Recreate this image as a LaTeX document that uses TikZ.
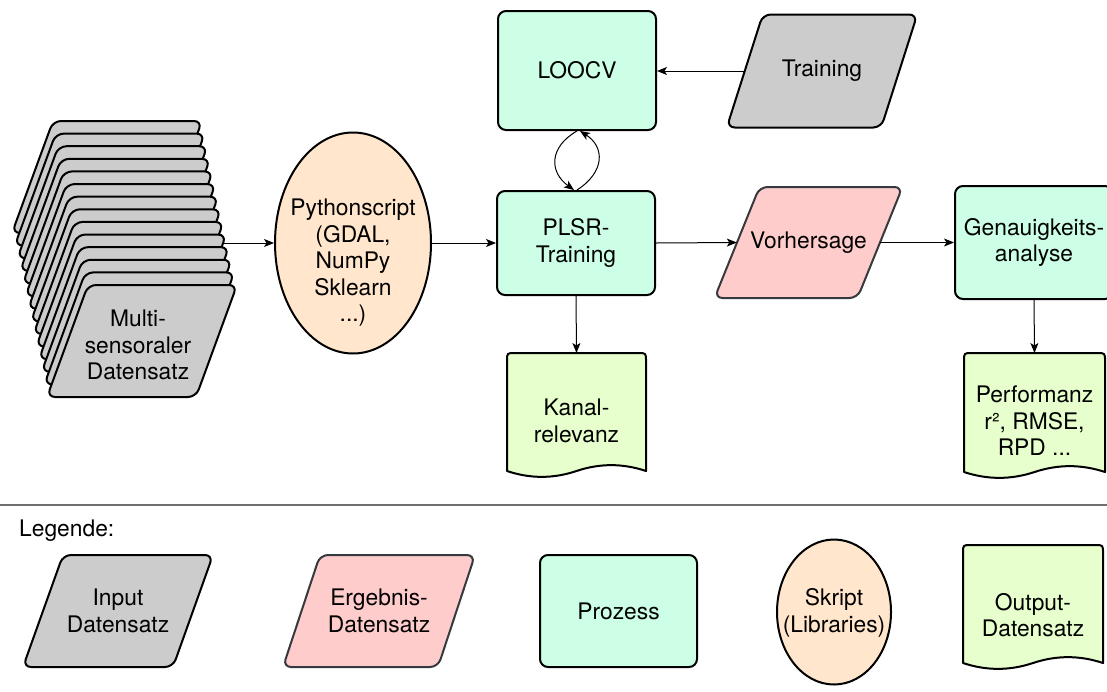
\documentclass[tikz,border=0pt]{standalone}
\usepackage{fontspec}
\setmainfont{TeX Gyre Heros}
\usetikzlibrary{arrows.meta,shapes.geometric}

\definecolor{inputgray}{HTML}{CCCCCC}
\definecolor{resultpink}{HTML}{FFCCCC}
\definecolor{pinkline}{HTML}{36393D}
\definecolor{procmint}{HTML}{CCFFE6}
\definecolor{scriptpeach}{HTML}{FFE6CC}
\definecolor{outgreen}{HTML}{E6FFCC}
\definecolor{rulegray}{HTML}{6E6E6E}

\tikzset{
  shapeline/.style={line width=2pt, draw=black, line join=round},
  proc/.style={shapeline, fill=procmint, rounded corners=8pt, align=center, inner sep=0pt},
  scriptshape/.style={shapeline, fill=scriptpeach, ellipse, inner sep=0pt},
  lbl/.style={align=center, inner sep=0pt},
  helper/.style={inner sep=0pt, outer sep=0pt},
  conn/.style={line width=1pt, -{Stealth[length=10pt,width=8pt,inset=2.5pt]}},
}

% parallelogram data shape: name, cx, cy, edge width, height, skew, style, text
\newcommand\parashape[8]{%
  \filldraw[shapeline,#7,rounded corners=8pt]
    ({#2-#4/2+#6/2},{#3-#5/2}) -- ({#2+#4/2+#6/2},{#3-#5/2}) --
    ({#2+#4/2-#6/2},{#3+#5/2}) -- ({#2-#4/2-#6/2},{#3+#5/2}) -- cycle;
  \node[lbl, minimum width={#4*1pt}, minimum height={#5*1pt}] (#1) at (#2,#3) {#8};
}

% document shape with wavy lower edge: name, left x, top y, width, wave end y, text, text centre y
\newcommand\docshape[7]{%
  \filldraw[shapeline, fill=outgreen]
    ({#2},{#5}) -- ({#2},{#3+8}) .. controls ({#2},{#3}) and ({#2},{#3}) .. ({#2+8},{#3})
    -- ({#2+#4-8},{#3}) .. controls ({#2+#4},{#3}) and ({#2+#4},{#3}) .. ({#2+#4},{#3+8})
    -- ({#2+#4},{#5})
    .. controls ({#2+5*#4/6},{#5-7.8}) and ({#2+2*#4/3},{#5-7.8}) .. ({#2+#4/2},{#5})
    .. controls ({#2+#4/3},{#5+7.8}) and ({#2+#4/6},{#5+7.8}) .. cycle;
  \node[helper, minimum width={#4*1pt}, minimum height={(#5-#3)*1pt}] (#1) at ({#2+#4/2},{(#3+#5)/2}) {};
  \node[lbl] (#1-text) at ({#2+#4/2},{#7}) {#6};
}

\begin{document}
\begin{tikzpicture}[x=1pt, y=-1pt,
  every node/.append style={font=\fontsize{22.8}{26.5}\selectfont}]
\useasboundingbox (0,0) rectangle (1107,691);
\clip (0,0) rectangle (1107,691);

% stacked multi-sensor input layers
\foreach \i in {0,...,13} {
  \pgfmathsetmacro\tx{53+\i*35/13}
  \pgfmathsetmacro\ty{121+\i*164/13}
  \filldraw[shapeline, fill=inputgray, rounded corners=8pt]
    (\tx,\ty) -- ({\tx+149},\ty) -- ({\tx+108},{\ty+112}) -- ({\tx-41},{\ty+112}) -- cycle;
}
\node[lbl] (stack) at (138,345) {Multi-\\sensoraler\\Datensatz};
\coordinate (stackout) at (223,243);

% script
\node[scriptshape, minimum width=156pt, minimum height=221pt] (py) at (353,243) {};
\node[lbl] (pytext) at (353,263) {Pythonscript\\(GDAL,\\NumPy\\Sklearn\\...)};

% processes
\node[proc, minimum width=158pt, minimum height=119pt] (loocv) at (577,70.5) {LOOCV};
\node[proc, minimum width=158pt, minimum height=104pt] (plsr) at (576,243) {PLSR-\\Training};
\node[proc, minimum width=158pt, minimum height=113pt] (genau) at (1034,242.5) {Genauigkeits-\\analyse};

% data sets
\parashape{train}{822}{71}{154.5}{113}{36}{fill=inputgray}{Training}
\parashape{vorh}{808.5}{242.5}{143}{111}{45}{fill=resultpink,draw=pinkline}{Vorhersage}

% outputs
\docshape{kanal}{507}{353}{139}{471}{Kanal-\\relevanz}{421}
\docshape{perf}{964}{353}{141}{472}{Performanz\\r², RMSE,\\RPD ...}{421}

% connectors
\draw[conn] (stackout) -- (py.west);
\draw[conn] (py.east) -- (plsr.west);
\draw[conn] (plsr.east) -- (vorh.west);
\draw[conn] (vorh.east) -- (genau.west);
\draw[conn] (train.west) -- (train.west -| loocv.east);
\draw[conn] (plsr.south) -- (kanal.north);
\draw[conn] (genau.south) -- (perf.north);
\draw[conn] (loocv.south) .. controls (549,147) and (549,172) .. ([xshift=-2pt]plsr.north);
\draw[conn] ([xshift=1pt]plsr.north) .. controls (605,172) and (605,147) .. ([xshift=3pt]loocv.south);

% legend
\draw[line width=1.6pt, rulegray] (0,505) -- (1107,505);
\node[lbl, anchor=west] (legtitle) at (19,531) {Legende:};
\parashape{leginput}{118}{611}{150}{112}{40}{fill=inputgray}{Input\\Datensatz}
\parashape{legresult}{379}{611}{155}{112}{37}{fill=resultpink,draw=pinkline}{Ergebnis-\\Datensatz}
\node[proc, minimum width=157pt, minimum height=112pt] (legproc) at (618.5,611) {Prozess};
\node[scriptshape, minimum width=114pt, minimum height=145pt] (legscript) at (834,612) {};
\node[lbl] (legscripttext) at (834,613) {Skript\\(Libraries)};
\docshape{legout}{963}{545}{140}{663}{Output-\\Datensatz}{615}
\end{tikzpicture}
\end{document}
